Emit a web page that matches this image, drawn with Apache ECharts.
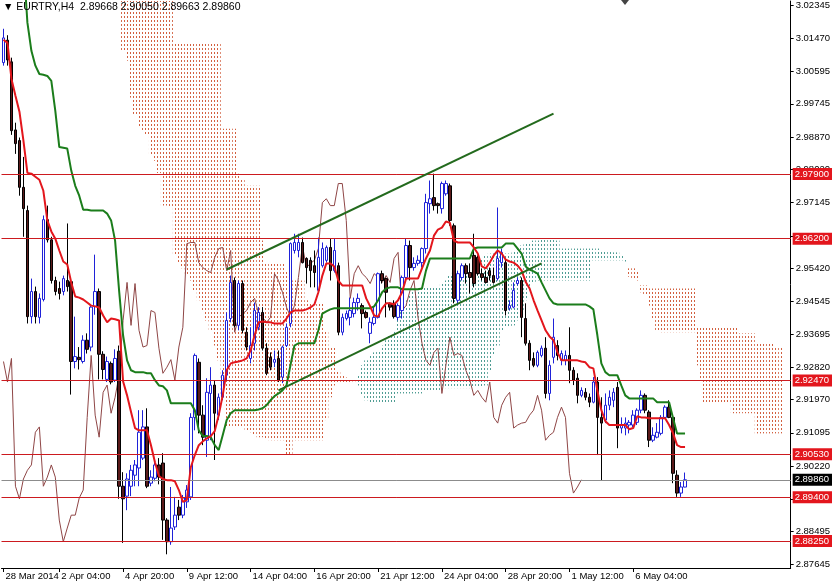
<!DOCTYPE html>
<html><head><meta charset="utf-8">
<script src="https://cdn.jsdelivr.net/npm/echarts@6/dist/echarts.min.js"></script>
<style>html,body{margin:0;padding:0;background:#fff}#c{width:833px;height:584px}</style>
</head><body><div id="c"></div>
<script>
const symbolName = 'EURTRY,H4';
const slotCount = 198;
const tickIdx = [0, 14, 30, 46, 62, 78, 94, 110, 126, 142, 158];
const tickLabels = ['28 Mar 2014', '2 Apr 04:00', '4 Apr 20:00', '9 Apr 12:00', '14 Apr 04:00', '16 Apr 20:00', '21 Apr 12:00', '24 Apr 04:00', '28 Apr 20:00', '1 May 12:00', '6 May 04:00'];
const priceTicks = [2.87645, 2.88495, 2.89345, 2.90220, 2.91095, 2.91970, 2.92820, 2.93695, 2.94545, 2.95420, 2.96270, 2.97145, 2.98020, 2.98870, 2.99745, 3.00595, 3.01470, 3.02345];
const priceMin = 2.8754, priceMax = 3.0245;

const open = [3.0083,3.0142,3.0085,2.9906,2.9878,2.9755,2.9694,2.9415,2.9481,2.9413,
2.9460,2.9670,2.9617,2.9510,2.9489,2.9481,2.9510,2.9507,2.9297,2.9308,
2.9297,2.9353,2.9335,2.9442,2.9481,2.9316,2.9250,2.9292,2.9248,2.9324,
2.8969,2.8943,2.8969,2.8998,2.9017,2.9043,2.9125,2.8977,2.8990,2.9025,
2.9030,2.8880,2.8823,2.8862,2.8914,2.8893,2.8928,2.8941,2.9150,2.9295,
2.9156,2.9090,2.9213,2.9235,2.9156,2.9203,2.9261,2.9410,2.9510,2.9392,
2.9502,2.9374,2.9305,2.9345,2.9387,2.9426,2.9332,2.9308,2.9295,2.9305,
2.9256,2.9339,2.9397,2.9589,2.9589,2.9610,2.9568,2.9563,2.9549,2.9484,
2.9549,2.9563,2.9597,2.9536,2.9549,2.9374,2.9410,2.9413,2.9423,2.9452,
2.9444,2.9426,2.9371,2.9397,2.9413,2.9528,2.9515,2.9450,2.9450,2.9413,
2.9431,2.9518,2.9602,2.9544,2.9555,2.9557,2.9594,2.9712,2.9728,2.9712,
2.9699,2.9738,2.9759,2.9654,2.9458,2.9518,2.9549,2.9531,2.9576,2.9571,
2.9528,2.9518,2.9536,2.9523,2.9515,2.9557,2.9557,2.9437,2.9440,2.9502,
2.9510,2.9410,2.9345,2.9305,2.9287,2.9313,2.9332,2.9213,2.9308,2.9339,
2.9300,2.9300,2.9313,2.9274,2.9253,2.9208,2.9216,2.9203,2.9190,2.9243,
2.9150,2.9143,2.9182,2.9195,2.9229,2.9122,2.9122,2.9130,2.9130,2.9137,
2.9169,2.9208,2.9164,2.9090,2.9098,2.9108,2.9150,2.9177,2.9150,2.8998,
2.8951,2.89668];
const high = [3.0172,3.0155,3.0096,2.9925,2.9886,2.9835,2.9707,2.9515,2.9494,2.9476,
2.9681,2.9707,2.9625,2.9520,2.9507,2.9523,2.9660,2.9515,2.9415,2.9335,
2.9366,2.9371,2.9447,2.9578,2.9489,2.9324,2.9310,2.9297,2.9329,2.9339,
2.9006,2.9003,2.9025,2.9038,2.9169,2.9169,2.9174,2.9011,2.9038,2.9043,
2.9056,2.8885,2.8967,2.8941,2.8933,2.8946,2.8972,2.9161,2.9318,2.9305,
2.9182,2.9253,2.9282,2.9248,2.9213,2.9274,2.9426,2.9523,2.9518,2.9510,
2.9510,2.9387,2.9387,2.9452,2.9440,2.9440,2.9345,2.9321,2.9326,2.9326,
2.9339,2.9397,2.9610,2.9633,2.9633,2.9623,2.9571,2.9571,2.9589,2.9623,
2.9610,2.9602,2.9620,2.9620,2.9557,2.9423,2.9431,2.9465,2.9465,2.9476,
2.9450,2.9431,2.9413,2.9440,2.9531,2.9536,2.9518,2.9452,2.9458,2.9450,
2.9523,2.9620,2.9615,2.9571,2.9576,2.9597,2.9738,2.9773,2.9791,2.9715,
2.9770,2.9773,2.9765,2.9660,2.9536,2.9555,2.9555,2.9555,2.9633,2.9576,
2.9541,2.9536,2.9544,2.9544,2.9702,2.9594,2.9568,2.9458,2.9505,2.9518,
2.9518,2.9450,2.9353,2.9321,2.9326,2.9339,2.9361,2.9300,2.9410,2.9353,
2.9326,2.9326,2.9387,2.9282,2.9266,2.9229,2.9227,2.9213,2.9256,2.9256,
2.9203,2.9213,2.9221,2.9227,2.9243,2.9150,2.9150,2.9143,2.9169,2.9174,
2.9221,2.9213,2.9169,2.9124,2.9135,2.9156,2.9182,2.9195,2.9156,2.9011,
2.8980,2.90050];
const low = [3.0075,3.0075,2.9893,2.9843,2.9733,2.9625,2.9397,2.9397,2.9397,2.9397,
2.9455,2.9610,2.9502,2.9471,2.9460,2.9471,2.9481,2.9210,2.9279,2.9276,
2.9292,2.9318,2.9324,2.9420,2.9250,2.9250,2.9243,2.9237,2.9243,2.8936,
2.8820,2.8906,2.8943,2.8969,2.8969,2.9038,2.8964,2.8969,2.8982,2.8974,
2.8828,2.8790,2.8815,2.8854,2.8880,2.8885,2.8912,2.8933,2.9116,2.9108,
2.9077,2.9046,2.9090,2.9038,2.9143,2.9195,2.9248,2.9400,2.9387,2.9379,
2.9371,2.9326,2.9292,2.9326,2.9379,2.9326,2.9261,2.9274,2.9282,2.9243,
2.9240,2.9335,2.9387,2.9581,2.9571,2.9555,2.9502,2.9492,2.9492,2.9479,
2.9544,2.9557,2.9510,2.9531,2.9366,2.9366,2.9405,2.9392,2.9413,2.9431,
2.9384,2.9410,2.9345,2.9392,2.9410,2.9502,2.9413,2.9431,2.9410,2.9405,
2.9410,2.9510,2.9510,2.9536,2.9549,2.9544,2.9581,2.9686,2.9694,2.9686,
2.9686,2.9733,2.9654,2.9450,2.9450,2.9510,2.9502,2.9476,2.9492,2.9523,
2.9510,2.9502,2.9510,2.9502,2.9510,2.9544,2.9418,2.9431,2.9437,2.9497,
2.9361,2.9339,2.9274,2.9282,2.9282,2.9308,2.9200,2.9195,2.9292,2.9300,
2.9287,2.9287,2.9240,2.9235,2.9187,2.9203,2.9195,2.9177,2.9187,2.9051,
2.8985,2.9135,2.9169,2.9177,2.9069,2.9108,2.9103,2.9108,2.9124,2.9130,
2.9161,2.9161,2.9072,2.9085,2.9095,2.9103,2.9148,2.9148,2.8977,2.8941,
2.8941,2.89663];
const close = [3.0148,3.0090,2.9904,2.9870,2.9755,2.9699,2.9415,2.9481,2.9415,2.9463,
2.9670,2.9617,2.9510,2.9481,2.9476,2.9515,2.9494,2.9297,2.9310,2.9302,
2.9353,2.9329,2.9440,2.9481,2.9316,2.9276,2.9297,2.9243,2.9305,2.8969,
2.8936,2.8988,2.9011,2.9025,2.9111,2.9125,2.8969,2.8993,2.9025,2.8993,
2.8880,2.8823,2.8859,2.8893,2.8893,2.8938,2.8959,2.9150,2.9313,2.9156,
2.9098,2.9216,2.9235,2.9161,2.9203,2.9261,2.9405,2.9505,2.9392,2.9502,
2.9379,2.9335,2.9339,2.9431,2.9426,2.9332,2.9266,2.9282,2.9302,2.9248,
2.9335,2.9387,2.9607,2.9610,2.9610,2.9557,2.9544,2.9536,2.9531,2.9571,
2.9594,2.9597,2.9536,2.9589,2.9374,2.9413,2.9423,2.9431,2.9452,2.9463,
2.9423,2.9413,2.9400,2.9413,2.9528,2.9510,2.9479,2.9440,2.9415,2.9444,
2.9518,2.9602,2.9544,2.9555,2.9563,2.9594,2.9715,2.9725,2.9707,2.9707,
2.9765,2.9765,2.9668,2.9463,2.9528,2.9549,2.9528,2.9518,2.9502,2.9528,
2.9518,2.9505,2.9523,2.9505,2.9568,2.9584,2.9431,2.9444,2.9484,2.9510,
2.9413,2.9345,2.9300,2.9287,2.9321,2.9332,2.9213,2.9287,2.9361,2.9313,
2.9318,2.9313,2.9274,2.9248,2.9208,2.9221,2.9203,2.9190,2.9243,2.9150,
2.9135,2.9182,2.9203,2.9216,2.9122,2.9130,2.9135,2.9137,2.9156,2.9169,
2.9208,2.9169,2.9090,2.9103,2.9111,2.9150,2.9177,2.9150,2.9003,2.8951,
2.8967,2.89860];

const tenkan = [3.0143,3.0135,3.0040,2.9996,2.9954,2.9878,2.9793,2.9791,2.9783,2.9775,
2.9746,2.9668,2.9639,2.9620,2.9589,2.9560,2.9552,2.9505,2.9468,2.9465,
2.9460,2.9452,2.9444,2.9442,2.9439,2.9418,2.9400,2.9410,2.9408,2.9405,
2.9245,2.9208,2.9164,2.9122,2.9116,2.9116,2.9116,2.9077,2.9032,2.8996,
2.8988,2.8985,2.8985,2.8982,2.8959,2.8928,2.8933,2.9019,2.9051,2.9077,
2.9087,2.9095,2.9101,2.9114,2.9156,2.9208,2.9274,2.9292,2.9295,2.9297,
2.9300,2.9305,2.9326,2.9366,2.9400,2.9402,2.9400,2.9400,2.9397,2.9397,
2.9397,2.9410,2.9426,2.9431,2.9431,2.9431,2.9434,2.9439,2.9447,2.9479,
2.9523,2.9555,2.9555,2.9547,2.9510,2.9497,2.9497,2.9497,2.9497,2.9497,
2.9497,2.9463,2.9442,2.9418,2.9415,2.9437,2.9450,2.9450,2.9447,2.9458,
2.9479,2.9515,2.9515,2.9515,2.9515,2.9542,2.9568,2.9589,2.9628,2.9644,
2.9649,2.9665,2.9662,2.9615,2.9610,2.9610,2.9610,2.9610,2.9597,2.9581,
2.9547,2.9542,2.9557,2.9576,2.9589,2.9581,2.9565,2.9560,2.9557,2.9549,
2.9536,2.9507,2.9489,2.9458,2.9431,2.9405,2.9379,2.9363,2.9353,2.9321,
2.9300,2.9300,2.9300,2.9300,2.9300,2.9297,2.9295,2.9282,2.9279,2.9221,
2.9169,2.9140,2.9130,2.9130,2.9130,2.9130,2.9130,2.9119,2.9122,2.9153,
2.9150,2.9150,2.9148,2.9148,2.9148,2.9148,2.9148,2.9130,2.9108,2.9077,
2.9072,2.9072];
const kijun = [3.0350,3.0350,3.0350,3.0350,3.0350,3.0350,3.0188,3.0114,3.0075,3.0053,
3.0051,3.0048,3.0035,2.9956,2.9861,2.9859,2.9857,2.9799,2.9759,2.9733,
2.9696,2.9696,2.9694,2.9694,2.9694,2.9694,2.9686,2.9668,2.9615,2.9484,
2.9366,2.9300,2.9274,2.9269,2.9269,2.9269,2.9266,2.9266,2.9248,2.9234,
2.9232,2.9221,2.9187,2.9187,2.9187,2.9187,2.9187,2.9187,2.9169,2.9116,
2.9101,2.9101,2.9098,2.9077,2.9064,2.9103,2.9143,2.9161,2.9169,2.9169,
2.9169,2.9169,2.9169,2.9169,2.9171,2.9174,2.9182,2.9195,2.9206,2.9213,
2.9221,2.9234,2.9287,2.9339,2.9345,2.9345,2.9345,2.9345,2.9345,2.9379,
2.9423,2.9429,2.9434,2.9437,2.9437,2.9437,2.9437,2.9437,2.9437,2.9437,
2.9437,2.9437,2.9437,2.9442,2.9458,2.9479,2.9489,2.9492,2.9492,2.9492,
2.9487,2.9487,2.9487,2.9487,2.9487,2.9489,2.9536,2.9568,2.9568,2.9568,
2.9568,2.9568,2.9568,2.9568,2.9568,2.9568,2.9568,2.9568,2.9594,2.9597,
2.9597,2.9597,2.9597,2.9597,2.9597,2.9597,2.9607,2.9607,2.9607,2.9594,
2.9581,2.9547,2.9539,2.9534,2.9528,2.9505,2.9484,2.9463,2.9450,2.9447,
2.9447,2.9447,2.9447,2.9447,2.9447,2.9447,2.9447,2.9442,2.9434,2.9366,
2.9292,2.9269,2.9261,2.9261,2.9261,2.9234,2.9208,2.9200,2.9200,2.9200,
2.9200,2.9200,2.9200,2.9200,2.9190,2.9190,2.9190,2.9190,2.9148,2.9108,
2.9108,2.9108];

const cloudStart = 30;
const spanA = [3.0114,3.0088,2.9991,2.9948,2.9912,2.9904,2.9891,2.9838,2.9825,2.9793,
2.9707,2.9707,2.9702,2.9576,2.9557,2.9542,2.9523,2.9510,2.9484,2.9458,
2.9431,2.9405,2.9379,2.9339,2.9300,2.9208,2.9124,2.9124,2.9124,2.9124,
2.9124,2.9116,2.9111,2.9103,2.9098,2.9098,2.9095,2.9090,2.9090,2.9090,
2.9090,2.9051,2.9051,2.9090,2.9090,2.9090,2.9090,2.9090,2.9090,2.9090,
2.9090,2.9143,2.9203,2.9234,2.9240,2.9240,2.9240,2.9240,2.9245,2.9261,
2.9287,2.9300,2.9313,2.9321,2.9326,2.9339,2.9353,2.9366,2.9379,2.9410,
2.9431,2.9458,2.9471,2.9484,2.9489,2.9489,2.9492,2.9492,2.9492,2.9492,
2.9502,2.9510,2.9523,2.9531,2.9536,2.9536,2.9536,2.9542,2.9549,2.9557,
2.9568,2.9576,2.9581,2.9581,2.9581,2.9581,2.9581,2.9581,2.9589,2.9594,
2.9602,2.9607,2.9610,2.9615,2.9615,2.9620,2.9620,2.9620,2.9620,2.9615,
2.9594,2.9594,2.9594,2.9594,2.9594,2.9594,2.9594,2.9594,2.9594,2.9594,
2.9589,2.9589,2.9589,2.9584,2.9584,2.9576,2.9568,2.9520,2.9515,2.9510,
2.9479,2.9471,2.9444,2.9410,2.9379,2.9374,2.9374,2.9374,2.9374,2.9374,
2.9374,2.9374,2.9374,2.9374,2.9287,2.9248,2.9187,2.9187,2.9187,2.9187,
2.9187,2.9187,2.9187,2.9161,2.9161,2.9161,2.9161,2.9161,2.9161,2.9108,
2.9108,2.9108,2.9108,2.9108,2.9108,2.9108];
const spanB = [3.0298,3.0298,3.0298,3.0298,3.0298,3.0298,3.0298,3.0298,3.0298,3.0298,
3.0298,3.0298,3.0298,3.0132,3.0132,3.0132,3.0132,3.0132,3.0132,3.0132,
3.0132,3.0132,3.0132,3.0132,3.0132,2.9909,2.9909,2.9909,2.9909,2.9791,
2.9778,2.9759,2.9759,2.9759,2.9759,2.9615,2.9555,2.9555,2.9555,2.9555,
2.9555,2.9536,2.9510,2.9510,2.9510,2.9510,2.9458,2.9450,2.9450,2.9450,
2.9450,2.9379,2.9334,2.9334,2.9274,2.9261,2.9255,2.9253,2.9253,2.9234,
2.9208,2.9195,2.9187,2.9187,2.9187,2.9187,2.9187,2.9187,2.9187,2.9213,
2.9213,2.9213,2.9213,2.9213,2.9213,2.9213,2.9221,2.9221,2.9221,2.9221,
2.9227,2.9227,2.9227,2.9227,2.9227,2.9227,2.9227,2.9227,2.9229,2.9229,
2.9229,2.9234,2.9274,2.9313,2.9339,2.9379,2.9387,2.9387,2.9392,2.9405,
2.9431,2.9458,2.9484,2.9502,2.9510,2.9510,2.9510,2.9510,2.9510,2.9510,
2.9510,2.9510,2.9510,2.9510,2.9510,2.9510,2.9510,2.9510,2.9563,2.9563,
2.9563,2.9563,2.9563,2.9563,2.9563,2.9563,2.9560,2.9542,2.9542,2.9536,
2.9497,2.9497,2.9489,2.9489,2.9489,2.9489,2.9489,2.9489,2.9489,2.9489,
2.9489,2.9489,2.9489,2.9489,2.9387,2.9387,2.9387,2.9387,2.9387,2.9387,
2.9387,2.9387,2.9387,2.9387,2.9387,2.9371,2.9371,2.9371,2.9371,2.9345,
2.9345,2.9345,2.9345,2.9345,2.9334,2.9334];
const chikouShift = 26;

const levels = [2.97900, 2.96200, 2.92470, 2.90530, 2.89400, 2.88250];
const channelUpper = [[56, 2.9539], [138, 2.9949]];
const channelLower = [[69, 2.9221], [135, 2.9555]];

const fontFamily = 'Liberation Sans, Arial, sans-serif';
const fmt5 = v => v.toFixed(5);
const last = close.length - 1;

const categories = [];
for (let i = 0; i < slotCount; i++) {
  const k = tickIdx.indexOf(i);
  categories.push(k >= 0 ? tickLabels[k] : String(i));
}
const isTick = (idx) => tickIdx.indexOf(idx) >= 0;

function dotPattern(color) {
  const c = document.createElement('canvas');
  c.width = 3; c.height = 4;
  const g = c.getContext('2d');
  g.fillStyle = color;
  g.fillRect(1, 0, 1, 2);
  return { image: c, repeat: 'repeat' };
}
const bullKumo = dotPattern('#4e9c93');
const bearKumo = dotPattern('#d2603f');

const levelLabel = (bg) => ({
  show: true, position: 'end', distance: 2,
  color: '#ffffff', backgroundColor: bg, padding: [1, 3, 1, 2],
  fontSize: 9.5, fontFamily: fontFamily,
  formatter: (p) => fmt5(p.value)
});
const markData = levels.map(v => ({
  yAxis: v,
  lineStyle: { color: '#cc1a1f', width: 1, type: 'solid' },
  label: levelLabel('#e3161d')
}));
markData.push({
  yAxis: close[last],
  lineStyle: { color: '#8c8c8c', width: 1, type: 'solid' },
  label: levelLabel('#000000')
});

const chart = echarts.init(document.getElementById('c'), null, { renderer: 'canvas' });
chart.setOption({
  animation: false,
  backgroundColor: '#ffffff',
  textStyle: { fontFamily: fontFamily },
  title: {
    text: '\u25BC ' + symbolName + '  ' + fmt5(open[last]) + ' ' + fmt5(high[last]) + ' ' + fmt5(low[last]) + ' ' + fmt5(close[last]),
    left: 1, top: 0, padding: [2, 0, 0, 2],
    textStyle: { fontSize: 10.5, fontWeight: 'normal', color: '#000', fontFamily: fontFamily }
  },
  grid: { left: 1.5, right: 39.5, top: 0, bottom: 16 },
  xAxis: {
    type: 'category', data: categories, boundaryGap: true,
    axisLine: { show: true, lineStyle: { color: '#000', width: 1 } },
    axisTick: { show: true, interval: isTick, alignWithLabel: true, length: 4, lineStyle: { color: '#000' } },
    axisLabel: { interval: isTick, align: 'left', margin: 3, padding: [0, 0, 0, 2], fontSize: 9.5, color: '#000', fontFamily: fontFamily },
    splitLine: { show: false }
  },
  yAxis: {
    type: 'value', position: 'right', min: priceMin, max: priceMax, scale: true,
    axisLine: { show: true, lineStyle: { color: '#000', width: 1 } },
    axisTick: { show: true, length: 3, customValues: priceTicks, lineStyle: { color: '#000' } },
    axisLabel: { customValues: priceTicks, formatter: v => fmt5(v), margin: 5, fontSize: 9.5, color: '#000', fontFamily: fontFamily },
    splitLine: { show: false }
  },
  graphic: [
    { type: 'polygon', shape: { points: [[621, 0], [629, 0], [625, 5]] }, style: { fill: '#444' }, silent: true }
  ],
  series: [
    {
      name: 'Kumo', type: 'custom', z: 1, silent: true,
      data: spanA.map((a, k) => [cloudStart + k, a, spanB[k]]),
      encode: { x: 0, y: [1, 2] },
      renderItem: (params, api) => {
        const i = api.value(0), a = api.value(1), b = api.value(2);
        const top = api.coord([i, Math.max(a, b)]);
        const bot = api.coord([i, Math.min(a, b)]);
        const w = api.size([1, 0])[0];
        const cs = params.coordSys;
        const shape = echarts.graphic.clipRectByRect(
          { x: top[0] - w / 2, y: top[1], width: w, height: bot[1] - top[1] },
          { x: cs.x, y: cs.y, width: cs.width, height: cs.height });
        if (!shape) return null;
        return { type: 'rect', shape: shape, style: { fill: a > b ? bullKumo : bearKumo } };
      }
    },
    {
      name: 'Chikou', type: 'line', z: 2, silent: true, symbol: 'none',
      data: close.slice(chikouShift),
      lineStyle: { color: '#8f4646', width: 1 }
    },
    {
      name: symbolName, type: 'candlestick', z: 3, barWidth: 3, silent: true,
      data: open.map((o, i) => [o, close[i], low[i], high[i]]),
      itemStyle: { color: '#ffffff', color0: '#5b1a1a', borderColor: '#1f22d8', borderColor0: '#000000', borderWidth: 1 },
      markLine: { symbol: ['none', 'none'], silent: true, animation: false, precision: 5, data: markData }
    },
    {
      name: 'Kijun', type: 'line', z: 4, silent: true, symbol: 'none',
      data: kijun, lineStyle: { color: '#1b7d1b', width: 2 }
    },
    {
      name: 'Tenkan', type: 'line', z: 5, silent: true, symbol: 'none',
      data: tenkan, lineStyle: { color: '#e3161c', width: 2 }
    },
    {
      name: 'Channel upper', type: 'line', z: 6, silent: true, symbol: 'none',
      data: channelUpper, lineStyle: { color: '#236a1d', width: 2 }
    },
    {
      name: 'Channel lower', type: 'line', z: 6, silent: true, symbol: 'none',
      data: channelLower, lineStyle: { color: '#236a1d', width: 2 }
    }
  ]
});
</script>
</body></html>
